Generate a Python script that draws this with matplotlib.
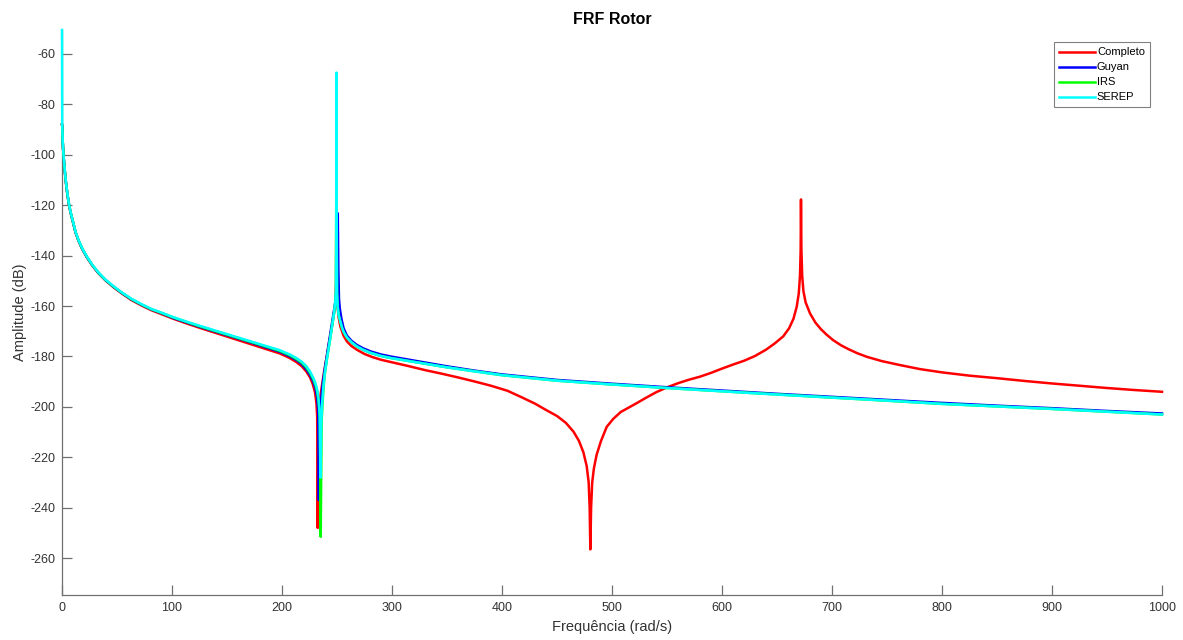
import matplotlib
matplotlib.use('Agg')
import matplotlib.pyplot as plt

plt.rcParams['font.family'] = ['Liberation Sans', 'DejaVu Sans']
plt.rcParams['axes.unicode_minus'] = False

# (frequency rad/s, amplitude dB)

completo_pts = [
    (0, -88), (0.2, -88.6), (0.6, -94.3), (1, -97.8), (1.6, -101.6), (2.5, -106.3), (3.5, -110.8), (4.7, -115),
    (6, -119), (7.7, -122.8), (10, -126.8), (12.3, -130.8), (15, -134.1), (18.4, -137.4), (22.5, -140.6),
    (27.5, -143.9), (33, -146.9), (39.5, -149.8), (47, -152.6), (54.7, -155.1), (63, -157.6), (72.9, -159.9),
    (81, -161.6), (91, -163.3), (101, -165), (112, -166.7), (125, -168.6), (140, -170.7), (155, -172.8),
    (170, -174.9), (185, -177), (198, -178.8), (207, -180.6), (213, -182.2), (218, -183.9), (222, -185.9),
    (225.5, -188.3), (228, -191), (230, -194.2), (231.3, -198.5), (232, -204), (232.5, -248), (233, -208),
    (233.8, -201), (235, -195.5), (236.5, -191), (238.5, -185.5), (240.5, -180.5), (243, -174), (245, -169),
    (247, -163.5), (248.5, -159), (249.2, -150), (249.5, -100), (249.8, -150), (250.5, -160), (251.5, -164.5),
    (253, -168), (256, -171.8), (259, -174), (263, -175.8), (268, -177.3), (275, -179), (282, -180.2),
    (290, -181.3), (300, -182.3), (315, -183.8), (330, -185.4), (345, -186.8), (360, -188.3), (375, -189.9),
    (390, -191.6), (405, -193.6), (418, -196.2), (430, -198.7), (440, -201.2), (450, -203.6), (458, -206.3),
    (465, -209.8), (470, -213.5), (474, -218), (477, -223.5), (478.8, -230), (479.7, -240), (480.3, -256.5),
    (481, -240), (482, -230), (483.5, -224.5), (486, -219), (490, -213.5), (495.2, -207.9), (501, -204.8),
    (508, -202), (515, -200.3), (522.5, -198.5), (530, -196.6), (540, -194.2), (549.7, -192.3), (560, -190.6),
    (570, -189.2), (580, -188), (590, -186.5), (600, -184.8), (610, -183.2), (620, -181.7), (630, -179.8),
    (640, -177.3), (648, -174.8), (655.7, -172), (661, -168.8), (665, -165), (667.9, -160.3), (669.8, -155),
    (670.9, -148), (671.5, -138), (671.8, -117.7), (672.2, -138), (672.9, -148), (674, -154), (676, -158.5),
    (680, -162.9), (685, -166.6), (690, -169.2), (695, -171.3), (701, -173.5), (708, -175.5), (715, -177.1),
    (723, -178.7), (731.5, -180.1), (745, -181.8), (761.8, -183.4), (780, -185), (800, -186.3), (825, -187.6),
    (850, -188.6), (875, -189.7), (900, -190.7), (925, -191.6), (950, -192.5), (975, -193.3), (1000, -194),
]

guyan_pts = [
    (0, -88), (0.2, -88.5), (0.6, -94.2), (1, -97.7), (1.6, -101.5), (2.5, -106.2), (3.5, -110.7), (4.7, -114.9),
    (6, -118.9), (7.7, -122.7), (10, -126.7), (12.3, -130.7), (15, -134), (18.4, -137.3), (22.5, -140.5),
    (27.5, -143.8), (33, -146.8), (39.5, -149.7), (47, -152.4), (54.7, -154.9), (63, -157.3), (72.9, -159.6),
    (81, -161.3), (91, -162.9), (101, -164.7), (112, -166.3), (125, -168.2), (140, -170.2), (155, -172.2),
    (170, -174.2), (185, -176.3), (198, -178.1), (207, -179.9), (213, -181.4), (218, -183), (222, -185),
    (225.5, -187.3), (228.5, -190), (230.5, -192.8), (232, -196.5), (232.9, -201.5), (233.5, -237), (234.1, -206),
    (235, -199.5), (236, -195.5), (237, -191), (238.5, -186), (240.5, -180.5), (243, -173.5), (245, -168),
    (247, -162.5), (248.5, -158.3), (249.5, -154), (250.2, -145), (250.7, -123.2), (251.2, -145), (251.8, -157),
    (252.5, -160.8), (254, -165), (256, -168.8), (259, -171.7), (263, -173.7), (268, -175.4), (274, -176.8),
    (280.7, -178), (290, -179.2), (300, -180.1), (325, -182), (350, -183.9), (375, -185.6), (400, -187.1),
    (450, -189.3), (500, -190.8), (550, -192.2), (600, -193.5), (650, -194.8), (700, -196), (762, -197.5),
    (800, -198.4), (850, -199.5), (900, -200.5), (950, -201.6), (1000, -202.6),
]

irs_pts = [
    (0, -88), (0.2, -88.3), (0.6, -94.1), (1, -97.6), (1.6, -101.4), (2.5, -106.1), (3.5, -110.6), (4.7, -114.8),
    (6, -118.8), (7.7, -122.6), (10, -126.6), (12.3, -130.6), (15, -133.9), (18.4, -137.2), (22.5, -140.4),
    (27.5, -143.7), (33, -146.7), (39.5, -149.6), (47, -152.3), (54.7, -154.8), (63, -157.2), (72.9, -159.5),
    (81, -161.2), (91, -162.8), (101, -164.5), (112, -166.1), (125, -168), (140, -170), (155, -172),
    (170, -174), (185, -176), (198, -177.8), (207, -179.5), (213, -181), (218, -182.5), (222, -184.3),
    (225.5, -186.5), (228.5, -189.1), (230.5, -191.5), (232, -194), (233.3, -198), (234.4, -204.5),
    (235.2, -251.5), (236, -206), (236.8, -199), (237.8, -192), (239, -186.5), (241, -180.5), (243.6, -173.5),
    (245.5, -168), (247.3, -162.9), (248.4, -158.5), (249, -154), (249.5, -90), (250, -155), (250.6, -160.2),
    (251.5, -163.5), (252.7, -165.6), (254.5, -168.5), (256, -170.2), (259, -172.5), (263, -174.3), (268, -176),
    (274, -177.4), (280.7, -178.6), (290, -179.8), (300, -180.7), (350, -184.3), (400, -187.4), (450, -189.6),
    (500, -191.1), (550, -192.5), (600, -193.8), (700, -196.3), (800, -198.8), (900, -200.8), (1000, -203),
]

# first point sits on the top edge of the axes, where the curve leaves the view
serep_pts = [
    (0, -50.5), (0.2, -88), (0.6, -94), (1, -97.5), (1.6, -101.3), (2.5, -106), (3.5, -110.5), (4.7, -114.7),
    (6, -118.7), (7.7, -122.5), (10, -126.5), (12.3, -130.5), (15, -133.8), (18.4, -137.1), (22.5, -140.3),
    (27.5, -143.6), (33, -146.6), (39.5, -149.5), (47, -152.2), (54.7, -154.7), (63, -157.1), (72.9, -159.4),
    (81, -161.1), (91, -162.7), (101, -164.4), (112, -166), (125, -167.8), (140, -169.8), (155, -171.8),
    (170, -173.8), (185, -175.8), (198, -177.5), (207, -179.2), (213, -180.6), (218, -182.1), (222, -183.8),
    (225.5, -186), (228.5, -188.5), (230.5, -190.8), (232, -193.2), (233.3, -197), (234.3, -203), (235, -228),
    (235.7, -207), (236.5, -199), (237.6, -192), (239, -186.5), (241, -180.5), (243.6, -173.5), (245.5, -168),
    (247.3, -162.9), (248.4, -158.5), (249, -154), (249.3, -135), (249.5, -67.4), (249.7, -135), (250, -155),
    (250.6, -160.2), (251.5, -163.5), (252.7, -165.6), (254.5, -168.5), (256, -170.2), (259, -172.5),
    (263, -174.3), (268, -176), (274, -177.4), (280.7, -178.6), (290, -179.8), (300, -180.7), (325, -182.5),
    (350, -184.3), (375, -185.9), (400, -187.4), (450, -189.6), (500, -191.1), (550, -192.5), (600, -193.8),
    (650, -195.1), (700, -196.3), (762, -197.8), (800, -198.8), (850, -199.8), (900, -200.8), (950, -201.9),
    (1000, -203),
]

series = [(completo_pts, 'Completo', (1, 0, 0)),
          (guyan_pts, 'Guyan', (0, 0, 1)),
          (irs_pts, 'IRS', (0, 1, 0)),
          (serep_pts, 'SEREP', (0, 1, 1))]

xticks = list(range(0, 1001, 100))
yticks = list(range(-260, -59, 20))

fig = plt.figure(figsize=(11.83, 6.40), dpi=100)
ax = fig.add_axes([62/1183, 45/640, 1100/1183, 565/640])

for pts, lab, col in series:
    xs = [p[0] for p in pts]
    ys = [p[1] for p in pts]
    # no clipping, so the part sitting on x=0 isn't cut in half by the axes edge
    ax.plot(xs, ys, color=col, linewidth=1.8, label=lab, clip_on=False)

ax.set_xlim(0, 1000)
ax.set_ylim(-274.6, -50.5)
ax.set_xticks(xticks)
ax.set_yticks(yticks)

axcol = '#707070'
txtcol = '#333333'
for s in ['top', 'right']:
    ax.spines[s].set_visible(False)
for s in ['left', 'bottom']:
    ax.spines[s].set_color(axcol)
    ax.spines[s].set_linewidth(0.9)
    ax.spines[s].set_zorder(1)
ax.tick_params(direction='in', length=7, width=0.9, color=axcol, labelcolor=txtcol, labelsize=9, pad=5)

ax.set_xlabel('Frequência (rad/s)', fontsize=10.5, color=txtcol, labelpad=4)
ax.set_ylabel('Amplitude (dB)', fontsize=10.5, color=txtcol, labelpad=2)
ax.set_title('FRF Rotor', fontsize=11.5, fontweight='bold', pad=4)

leg = ax.legend(loc='upper right', bbox_to_anchor=(0.989, 0.978), borderaxespad=0,
                fontsize=8, fancybox=False, framealpha=1, edgecolor='#808080',
                handlelength=3.3, handletextpad=0.15, labelspacing=0.45, borderpad=0.45)
leg.get_frame().set_linewidth(0.8)

fig.savefig('out.png', dpi=100)
